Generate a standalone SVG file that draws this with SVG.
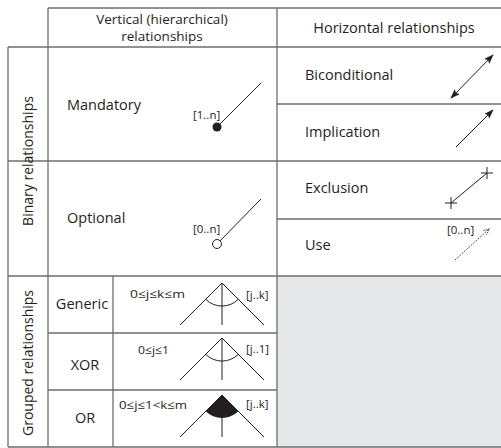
<svg xmlns="http://www.w3.org/2000/svg" width="501" height="448" viewBox="0 0 501 448">
<style>
.grid{stroke:#6d6e71;stroke-width:1.3;fill:none}
.t{font-family:"Open Sans","Liberation Sans",sans-serif;font-size:14.5px;fill:#231f20}
.h{font-family:"Open Sans","Liberation Sans",sans-serif;font-size:14px;fill:#231f20}
.s{font-family:"Open Sans","Liberation Sans",sans-serif;font-size:11.5px;fill:#231f20}
.ic{stroke:#231f20;stroke-width:1;fill:none}
</style>
<defs>
<marker id="ah" markerWidth="10" markerHeight="7" refX="9" refY="3.5" orient="auto-start-reverse" markerUnits="userSpaceOnUse">
<path d="M0,0 L10,3.5 L0,7 L2,3.5 z" fill="#231f20"/>
</marker>
<marker id="ahs" markerWidth="7" markerHeight="6" refX="6" refY="3" orient="auto" markerUnits="userSpaceOnUse">
<path d="M0,0 L6,3 L0,6" fill="none" stroke="#231f20" stroke-width="1" stroke-dasharray="1,1"/>
</marker>
</defs>
<rect x="277" y="276" width="224" height="171" fill="#e6e7e8"/>
<g id="grid" class="grid">
<path d="M48,8 H501 M8,47 H501 M8,161 H501 M8,276 H501 M8,447 H501 M277,104 H501 M277,219 H501 M48,333 H277 M48,390 H277"/>
<path d="M8,47 V447 M48,8 V447 M277,8 V447 M113,276 V447"/>
</g>
<g id="headers">
<text class="h" x="162" y="24" text-anchor="middle" style="font-size:13.5px">Vertical (hierarchical)</text>
<text class="h" x="162" y="40.5" text-anchor="middle" style="font-size:13.5px">relationships</text>
<text class="t" x="394" y="33" text-anchor="middle">Horizontal relationships</text>
<text class="h" transform="translate(33,161) rotate(-90)" text-anchor="middle">Binary relationships</text>
<text class="h" transform="translate(33,363) rotate(-90)" text-anchor="middle">Grouped relationships</text>
</g>
<g id="mandatory">
<text class="t" x="67" y="110">Mandatory</text>
<text class="s" x="193" y="119">[1..n]</text>
</g>
<g id="optional">
<text class="t" x="67" y="223">Optional</text>
<text class="s" x="193" y="233">[0..n]</text>
</g>
<g id="biconditional"><text class="t" x="305" y="80">Biconditional</text></g>
<g id="implication"><text class="t" x="305" y="137">Implication</text></g>
<g id="exclusion"><text class="t" x="305" y="193">Exclusion</text></g>
<g id="use">
<text class="t" x="305" y="250">Use</text>
<text class="s" x="447" y="234">[0..n]</text>
</g>
<g id="generic">
<text class="t" x="82" y="309" text-anchor="middle">Generic</text>
<text class="s" x="130" y="298" textLength="55" lengthAdjust="spacingAndGlyphs">0≤j≤k≤m</text>
<text class="s" x="246" y="299">[j..k]</text>
</g>
<g id="xor">
<text class="t" x="85" y="370" text-anchor="middle">XOR</text>
<text class="s" x="138" y="354" textLength="31" lengthAdjust="spacingAndGlyphs">0≤j≤1</text>
<text class="s" x="246" y="353">[j..1]</text>
</g>
<g id="or">
<text class="t" x="85" y="423" text-anchor="middle">OR</text>
<text class="s" x="119" y="409" textLength="68" lengthAdjust="spacingAndGlyphs">0≤j≤1&lt;k≤m</text>
<text class="s" x="246" y="408">[j..k]</text>
</g>
<g id="connectors">
<line class="ic" x1="217" y1="127" x2="261" y2="83"/>
<circle cx="217" cy="127" r="4.5" fill="#231f20"/>
<line class="ic" x1="217" y1="244" x2="261" y2="199"/>
<circle cx="217" cy="244" r="4.5" fill="#fff" stroke="#231f20" stroke-width="1"/>
<line class="ic" x1="451" y1="98" x2="493" y2="55" marker-start="url(#ah)" marker-end="url(#ah)"/>
<line class="ic" x1="456" y1="147" x2="493" y2="110" marker-end="url(#ah)"/>
<line class="ic" x1="451" y1="203" x2="487" y2="173"/>
<path class="ic" d="M445,203 H457 M451,197 V209 M481,173 H493 M487,167 V179"/>
<line class="ic" x1="455" y1="260" x2="489" y2="229" stroke-dasharray="1.2,1.2" marker-end="url(#ahs)"/>
<path class="ic" d="M222,283 L180,325 M222,283 L264,325 M222,283 V325 M205.7,299.3 A23,23 0 0 0 238.3,299.3"/>
<path class="ic" d="M222,338 L180,380 M222,338 L264,380 M222,338 V380 M205.7,354.3 A23,23 0 0 0 238.3,354.3"/>
<path class="ic" d="M222,395 L180,437 M222,395 L264,437 M222,395 V437"/>
<path d="M222,395 L205.7,411.3 A23,23 0 0 0 238.3,411.3 Z" fill="#231f20"/>
</g>
</svg>
